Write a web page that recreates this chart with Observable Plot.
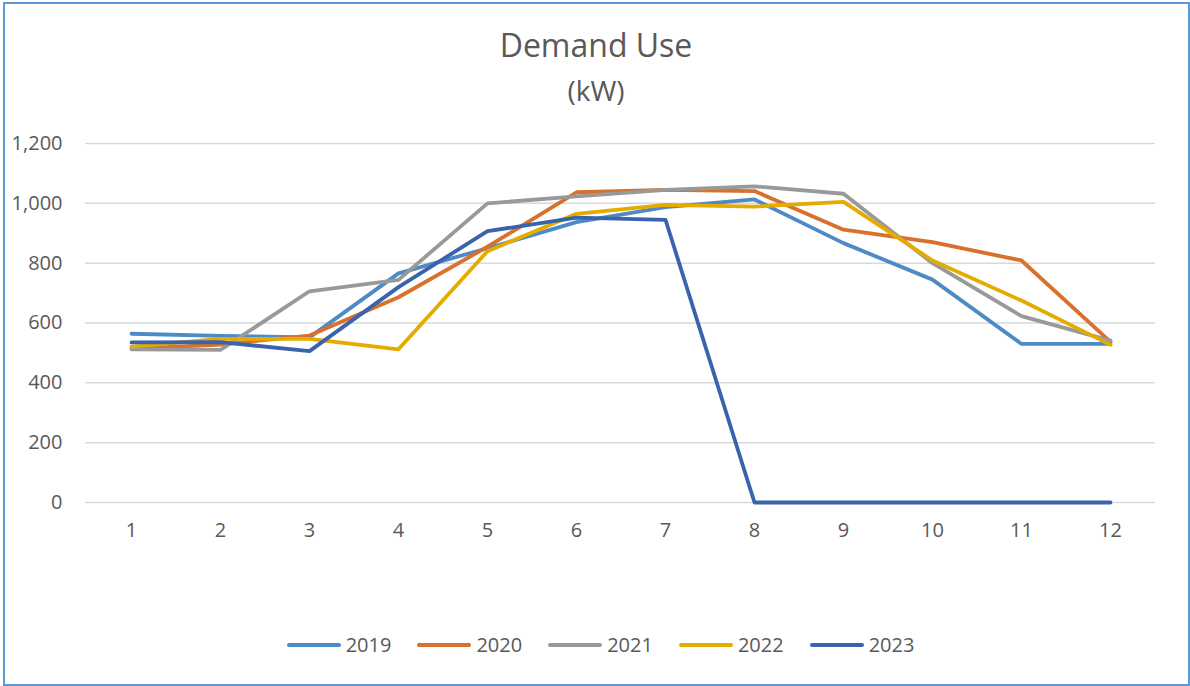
<!DOCTYPE html>
<html>
<head>
<meta charset="utf-8">
<script src="https://cdn.jsdelivr.net/npm/d3@7"></script>
<script src="https://cdn.jsdelivr.net/npm/@observablehq/plot@0.6"></script>
<style>
  html, body { margin: 0; padding: 0; background: #fff; }
  #wrap { position: relative; width: 1190px; height: 686px; overflow: hidden; font-family: "Open Sans", sans-serif; color: #595959; }
  #frame { position: absolute; left: 3px; top: 2px; width: 1183px; height: 680px; border: 2px solid #5B9BD5; box-sizing: content-box; }
  #title { position: absolute; left: 0; width: 1192px; top: 25px; text-align: center; font-size: 32px; line-height: 40px; }
  #subtitle { position: absolute; left: 0; width: 1192px; top: 72px; text-align: center; font-size: 28px; line-height: 36px; }
  #chart { position: absolute; left: 0; top: 0; }
  #legend { position: absolute; left: 0; width: 1190px; top: 631px; display: flex; justify-content: center; padding-left: 11px; box-sizing: border-box; }
  .item { display: flex; align-items: center; margin: 0 13px 0 13px; font-size: 20px; line-height: 28px; }
  .item svg { margin-right: 5px; }
</style>
</head>
<body>
<div id="wrap">
  <div id="frame"></div>
  <div id="chart"></div>
  <div id="title">Demand Use</div>
  <div id="subtitle">(kW)</div>
  <div id="legend"></div>
</div>
<script>
const months = [1, 2, 3, 4, 5, 6, 7, 8, 9, 10, 11, 12];
const years = ["2019", "2020", "2021", "2022", "2023"];
const colors = ["#4E8BC5", "#D9702C", "#999999", "#E5AC00", "#3A63AD"];
const v2019 = [564, 557, 552, 766, 850, 937, 987, 1013, 867, 745, 530, 530];
const v2020 = [514, 528, 558, 686, 855, 1037, 1045, 1041, 912, 870, 809, 537];
const v2021 = [512, 510, 706, 744, 1000, 1023, 1045, 1057, 1032, 800, 623, 541];
const v2022 = [521, 547, 547, 512, 840, 965, 995, 989, 1005, 809, 675, 527];
const v2023 = [535, 536, 506, 720, 907, 952, 945, 0, 0, 0, 0, 0];
const yTicks = [0, 200, 400, 600, 800, 1000, 1200];

const series = [v2019, v2020, v2021, v2022, v2023];
const data = [];
series.forEach((vals, i) => vals.forEach((v, j) => data.push({year: years[i], month: months[j], value: v})));

const chart = Plot.plot({
  width: 1190,
  height: 560,
  marginLeft: 85,
  marginRight: 35,
  marginTop: 143,
  marginBottom: 58,
  style: {fontFamily: "'Open Sans', sans-serif", fontSize: "20px", color: "#595959", background: "transparent"},
  x: {type: "point", domain: months, padding: 0.5, label: null, tickSize: 0, tickPadding: 20},
  y: {domain: [0, 1200], label: null, ticks: yTicks, tickFormat: d3.format(","), tickSize: 0, tickPadding: 23},
  color: {domain: years, range: colors},
  marks: [
    Plot.ruleY(yTicks, {stroke: "#d9d9d9", strokeWidth: 1.5}),
    Plot.axisX({tickSize: 0, tickPadding: 20, fill: "#595959"}),
    Plot.axisY({ticks: yTicks, tickFormat: d3.format(","), tickSize: 0, tickPadding: 23, fill: "#595959"}),
    Plot.line(data, {x: "month", y: "value", z: "year", stroke: "year", strokeWidth: 3.8, strokeLinejoin: "round", strokeLinecap: "round"})
  ]
});
document.getElementById("chart").appendChild(chart);

const legend = document.getElementById("legend");
years.forEach((y, i) => {
  const item = document.createElement("div");
  item.className = "item";
  item.innerHTML = `<svg width="54" height="10"><line x1="2" y1="5" x2="52" y2="5" stroke="${colors[i]}" stroke-width="4" stroke-linecap="round"/></svg><span>${y}</span>`;
  legend.appendChild(item);
});
</script>
</body>
</html>
